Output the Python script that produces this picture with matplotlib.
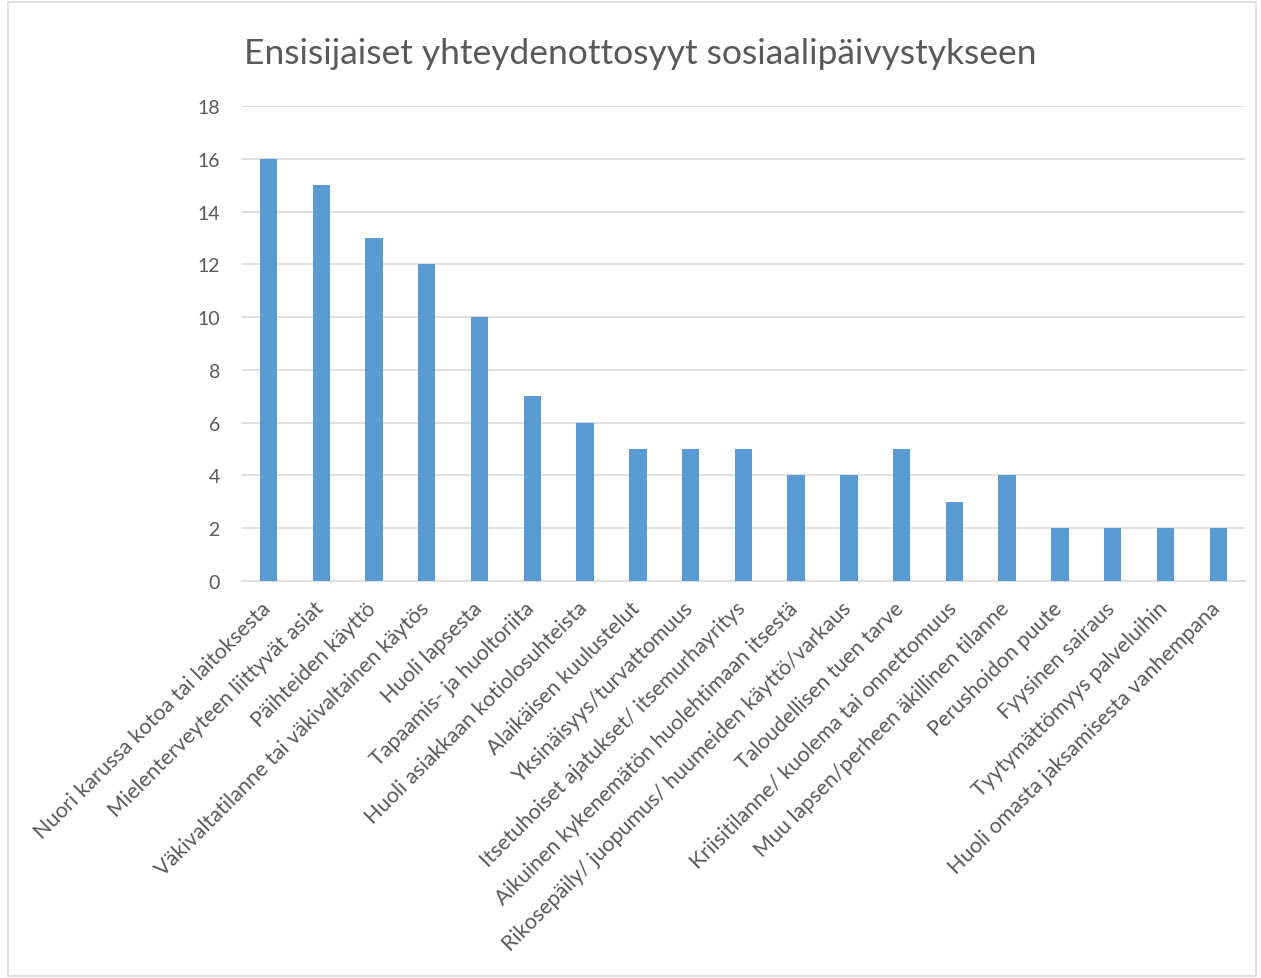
import matplotlib
matplotlib.use("Agg")
import matplotlib.pyplot as plt
from matplotlib.patches import Rectangle
from matplotlib.transforms import ScaledTranslation

categories = [
    "Nuori karussa kotoa tai laitoksesta",
    "Mielenterveyteen liittyvät asiat",
    "Päihteiden käyttö",
    "Väkivaltatilanne tai väkivaltainen käytös",
    "Huoli lapsesta",
    "Tapaamis- ja huoltoriita",
    "Huoli asiakkaan kotiolosuhteista",
    "Alaikäisen kuulustelut",
    "Yksinäisyys/turvattomuus",
    "Itsetuhoiset ajatukset/ itsemurhayritys",
    "Aikuinen kykenemätön huolehtimaan itsestä",
    "Rikosepäily/ juopumus/ huumeiden käyttö/varkaus",
    "Taloudellisen tuen tarve",
    "Kriisitilanne/ kuolema tai onnettomuus",
    "Muu lapsen/perheen äkillinen tilanne",
    "Perushoidon puute",
    "Fyysinen sairaus",
    "Tyytymättömyys palveluihin",
    "Huoli omasta jaksamisesta vanhempana",
]
values = [16, 15, 13, 12, 10, 7, 6, 5, 5, 5, 4, 4, 5, 3, 4, 2, 2, 2, 2]
yticks = list(range(0, 19, 2))

text_color = "#595959"
grid_color = "#d9d9d9"
bar_color = "#5b9bd5"

fig = plt.figure(figsize=(12.61, 9.79), dpi=100)
fig.patch.set_facecolor("white")
fig.patches.append(Rectangle((0.006, 0.002), 0.99, 0.995, transform=fig.transFigure,
                             fill=False, edgecolor=grid_color, linewidth=1.2))

ax = fig.add_axes([0.192, 0.4055, 0.795, 0.4852])
x = list(range(len(categories)))
ax.bar(x, values, width=0.33, color=bar_color, zorder=3)

ax.set_xlim(-0.5, len(categories) - 0.5)
ax.set_ylim(0, 18)
ax.set_yticks(yticks)
ax.set_yticklabels([str(t) for t in yticks], fontsize=14, color=text_color, family="Lato")
ax.yaxis.grid(True, color=grid_color, linewidth=1.2, zorder=0)
ax.tick_params(axis="y", length=0, pad=16)
ax.tick_params(axis="x", length=0, pad=12)

ax.set_xticks(x)
ax.set_xticklabels(categories, rotation=45, ha="right", va="top", rotation_mode="anchor",
                   fontsize=15.5, color=text_color, family="Lato")
shift = ScaledTranslation(-8 / 100, 0, fig.dpi_scale_trans)
for lbl in ax.get_xticklabels():
    lbl.set_transform(lbl.get_transform() + shift)

for side in ("top", "right", "left"):
    ax.spines[side].set_visible(False)
ax.spines["bottom"].set_color(grid_color)
ax.spines["bottom"].set_linewidth(1.2)

fig.text(0.5075, 0.945, "Ensisijaiset yhteydenottosyyt sosiaalipäivystykseen",
         ha="center", va="center", fontsize=25.5, color=text_color, family="Lato")

fig.savefig("out.png", dpi=100)
